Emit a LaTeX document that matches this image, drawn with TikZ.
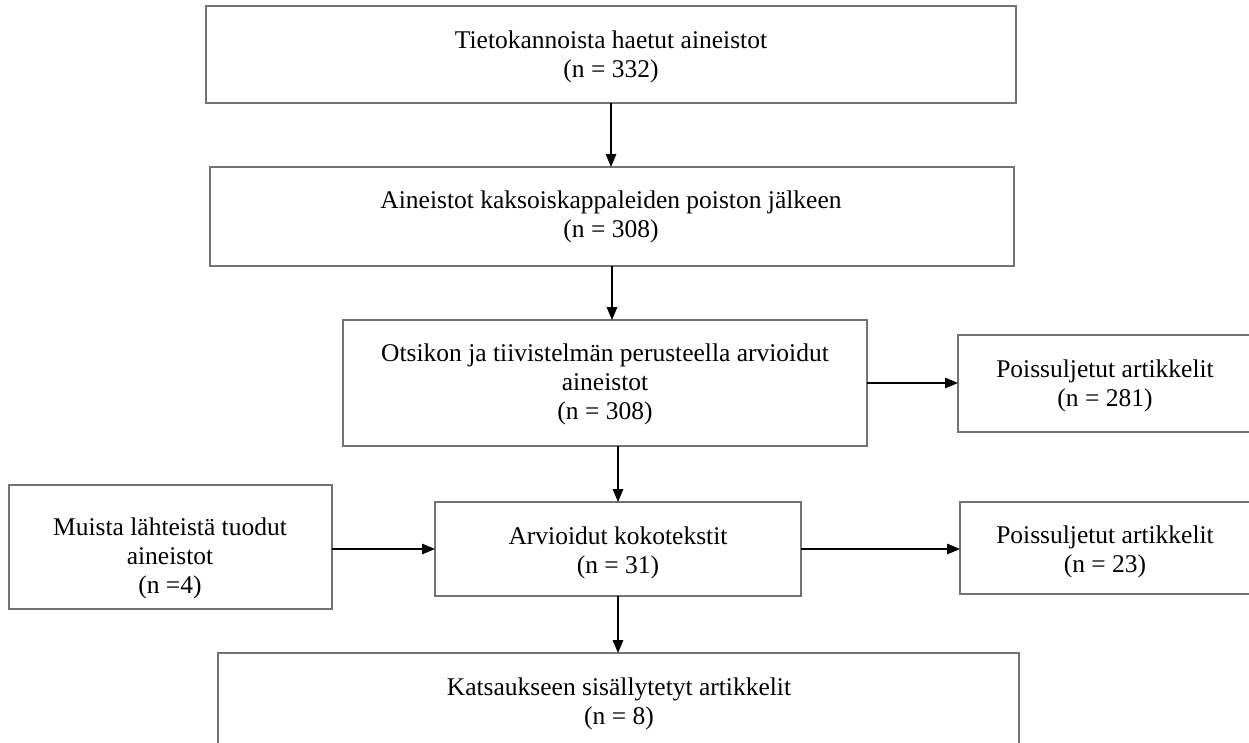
\documentclass[tikz,border=0pt]{standalone}
\usepackage{fontspec}
\setmainfont{Liberation Serif}
\usetikzlibrary{arrows.meta}
\newcommand\mylines[1]{\begin{tabular}[t]{@{}c@{}}#1\end{tabular}}
\definecolor{boxgray}{RGB}{115,115,115}
\tikzset{
  box/.style={draw=boxgray, line width=1.4pt, rectangle, inner sep=0pt, outer sep=0pt, fill=white},
  txt/.style={inner sep=0pt, outer sep=0pt, anchor=base, font=\fontsize{25.5}{29}\selectfont},
  arr/.style={draw=black, line width=1.5pt, -{Triangle[length=13pt,width=10.5pt]}}
}
\begin{document}
\begin{tikzpicture}[x=1pt,y=-1pt]
\useasboundingbox[fill=white] (0,0) rectangle (1249,742);
\clip (0,0) rectangle (1249,742);
% boxes
\node[box, minimum width=810pt, minimum height=97pt] (b1) at (611,54.5) {};
\node[box, minimum width=804pt, minimum height=99pt] (b2) at (612,216.5) {};
\node[box, minimum width=524pt, minimum height=126pt] (b3) at (605,383) {};
\node[box, minimum width=294pt, minimum height=97pt] (r1) at (1105,383.5) {};
\node[box, minimum width=366pt, minimum height=94pt] (b4) at (618,549) {};
\node[box, minimum width=292pt, minimum height=92pt] (r2) at (1106,548) {};
\node[box, minimum width=323pt, minimum height=124pt] (lb) at (170.5,547) {};
\node[box, minimum width=801pt, minimum height=127pt] (b5) at (618.5,716.5) {};
% texts
\node[txt] (t1) at (611,48) {\mylines{Tietokannoista haetut aineistot\\(n = 332)}};
\node[txt] (t2) at (611,208) {\mylines{Aineistot kaksoiskappaleiden poiston jälkeen\\(n = 308)}};
\node[txt] (t3) at (605,361) {\mylines{Otsikon ja tiivistelmän perusteella arvioidut\\aineistot\\(n = 308)}};
\node[txt] (tr1) at (1105,377) {\mylines{Poissuljetut artikkelit\\(n = 281)}};
\node[txt] (t4) at (618,544) {\mylines{Arvioidut kokotekstit\\(n = 31)}};
\node[txt] (tr2) at (1105,543) {\mylines{Poissuljetut artikkelit\\(n = 23)}};
\node[txt] (tl) at (170,535) {\mylines{Muista lähteistä tuodut\\aineistot\\(n =4)}};
\node[txt] (t5) at (619,695) {\mylines{Katsaukseen sisällytetyt artikkelit\\(n = 8)}};
% connectors
\draw[arr] (b1.south) -- (b1.south |- b2.north);
\draw[arr] (b2.south) -- (b2.south |- b3.north);
\draw[arr] (b4.north |- b3.south) -- (b4.north);
\draw[arr] (b4.south) -- (b4.south |- b5.north);
\draw[arr] (b3.east) -- (b3.east -| r1.west);
\draw[arr] (lb.east |- b4.west) -- (b4.west);
\draw[arr] (b4.east) -- (b4.east -| r2.west);
\end{tikzpicture}
\end{document}
